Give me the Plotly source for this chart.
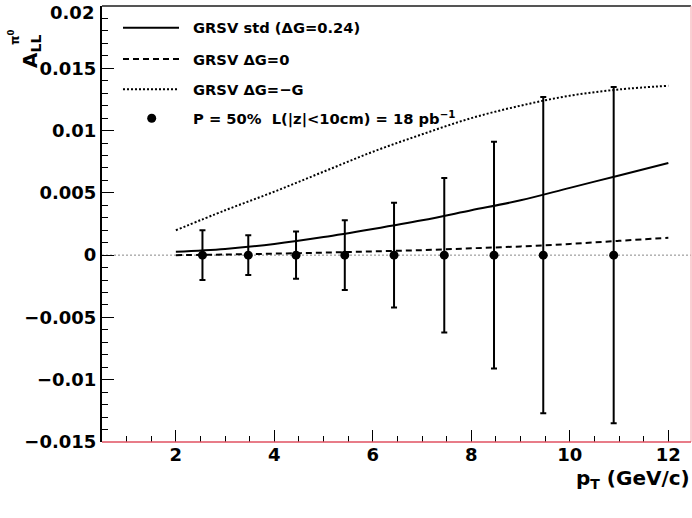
import plotly.graph_objects as go

# ---- data ----
pt_points = [2.54, 3.47, 4.44, 5.43, 6.43, 7.45, 8.46, 9.46, 10.89]
all_values = [0, 0, 0, 0, 0, 0, 0, 0, 0]
all_errors = [0.0020, 0.0016, 0.0019, 0.0028, 0.0042, 0.0062, 0.0091, 0.0127, 0.0135]

pt_curve = [2, 3, 4, 5, 6, 7, 8, 9, 10, 11, 12]
grsv_std = [0.00027, 0.0005, 0.0009, 0.00145, 0.0021, 0.0028, 0.0036, 0.0044, 0.0054, 0.0064, 0.0074]
grsv_zero = [0.0, 0.00005, 0.00012, 0.0002, 0.0003, 0.0004, 0.00055, 0.0007, 0.0009, 0.00115, 0.0014]
grsv_minus = [0.0020, 0.0036, 0.0051, 0.0067, 0.0083, 0.0097, 0.0110, 0.0120, 0.0128, 0.0133, 0.0136]

x_tickvals = [2, 4, 6, 8, 10, 12]
x_ticktext = ["2", "4", "6", "8", "10", "12"]
y_tickvals = [-0.015, -0.01, -0.005, 0, 0.005, 0.01, 0.015, 0.02]
y_ticktext = ["\u22120.015", "\u22120.01", "\u22120.005", "0", "0.005", "0.01", "0.015", "0.02"]

legend_labels = ["GRSV std (\u0394G=0.24)", "GRSV \u0394G=0", "GRSV \u0394G=\u2212G",
                 "P = 50%\u00a0\u00a0L(|z|<10cm) = 18 pb<sup>\u22121</sup>"]

X_RANGE = [0.5, 12.46]
Y_RANGE = [-0.0150001, 0.0200001]

W, H = 692, 518
ML, MR, MT, MB = 102, 1, 6, 76
PW = W - ML - MR
PH = H - MT - MB

FONT = "DejaVu Sans, Verdana, sans-serif"


def px(x):
    return (x - ML) / PW


def py(y):
    return 1 - (y - MT) / PH


def b(s):
    return "<b>" + s + "</b>"


fig = go.Figure()

line_styles = [dict(color="black", width=2, dash="solid"),
               dict(color="black", width=2, dash="6px,4px"),
               dict(color="black", width=2, dash="2px,2px")]

for ys, st in zip([grsv_std, grsv_zero, grsv_minus], line_styles):
    fig.add_trace(go.Scatter(x=pt_curve, y=ys, mode="lines", line=dict(shape="spline", **st),
                             showlegend=False, hoverinfo="skip"))

fig.add_trace(go.Scatter(
    x=pt_points, y=all_values, mode="markers",
    marker=dict(color="black", size=9),
    error_y=dict(type="data", array=all_errors, visible=True, color="black", thickness=2, width=3),
    showlegend=False))

shapes = []
shapes.append(dict(type="line", xref="paper", yref="y", x0=0, x1=1, y0=0, y1=0,
                   line=dict(color="#888888", width=1, dash="2px,2px"), layer="below"))
shapes.append(dict(type="line", xref="paper", yref="paper", x0=0, x1=1, y0=1, y1=1,
                   line=dict(color="#555555", width=2)))
shapes.append(dict(type="line", xref="paper", yref="paper", x0=1, x1=1, y0=0, y1=1,
                   line=dict(color="#f4a0a8", width=1)))
shapes.append(dict(type="line", xref="paper", yref="paper", x0=0, x1=1, y0=0, y1=0,
                   line=dict(color="#e05060", width=1.5)))

annotations = []
rows = [27.7, 59, 89.3, 118.3]
for i, (lab, ry) in enumerate(zip(legend_labels, rows)):
    if i < 3:
        st = line_styles[i]
        shapes.append(dict(type="line", xref="paper", yref="paper",
                           x0=px(123), x1=px(179), y0=py(ry), y1=py(ry),
                           line=dict(color="black", width=2, dash=st["dash"])))
    else:
        shapes.append(dict(type="circle", xref="paper", yref="paper",
                           x0=px(151.7 - 4.5), x1=px(151.7 + 4.5),
                           y0=py(ry + 4.5), y1=py(ry - 4.5),
                           fillcolor="black", line=dict(color="black", width=0)))
    annotations.append(dict(text=b(lab), xref="paper", yref="paper", x=px(191), y=py(ry),
                            xanchor="left", yanchor="middle", showarrow=False,
                            font=dict(family=FONT, size=14.7, color="black")))

annotations.append(dict(text=b("p<sub>T</sub> (GeV/c)"), xref="paper", yref="paper",
                        x=px(692), y=py(479), xanchor="right", yanchor="middle", showarrow=False,
                        font=dict(family=FONT, size=20, color="black")))
annotations.append(dict(text=b("A<sub>LL</sub>"), xref="paper", yref="paper",
                        x=px(31), y=py(52), xanchor="center", yanchor="middle", showarrow=False,
                        textangle=-90,
                        font=dict(family=FONT, size=20, color="black")))
annotations.append(dict(text=b("\u03c0<sup>0</sup>"), xref="paper", yref="paper",
                        x=px(14), y=py(37), xanchor="center", yanchor="middle", showarrow=False,
                        textangle=-90,
                        font=dict(family=FONT, size=12, color="black")))
# top tick label (nudged inside the page like the original)
annotations.append(dict(text=b(y_ticktext[-1]), xref="paper", yref="paper",
                        x=px(96), y=py(13), xanchor="right", yanchor="middle", showarrow=False,
                        font=dict(family=FONT, size=18, color="black")))

shown_y_text = [b(t) for t in y_ticktext[:-1]] + [""]

fig.update_layout(
    width=W, height=H,
    margin=dict(l=ML, r=MR, t=MT, b=MB, pad=0),
    paper_bgcolor="white", plot_bgcolor="white",
    showlegend=False,
    shapes=shapes, annotations=annotations,
    font=dict(family=FONT, color="black"),
)
fig.update_xaxes(range=X_RANGE, showgrid=False, zeroline=False,
                 showline=False, ticks="inside", ticklen=12, tickwidth=1, tickcolor="black",
                 tickmode="array", tickvals=x_tickvals, ticktext=[b(t) for t in x_ticktext],
                 minor=dict(ticks="inside", ticklen=6, tickwidth=1, tickcolor="black",
                            tickmode="linear", dtick=0.5, tick0=0),
                 tickfont=dict(family=FONT, size=18, color="black"))
fig.update_yaxes(range=Y_RANGE, showgrid=False, zeroline=False,
                 showline=True, linecolor="black", linewidth=2, mirror=False,
                 ticks="inside", ticklen=12, tickwidth=1, tickcolor="black",
                 tickmode="array", tickvals=y_tickvals, ticktext=shown_y_text,
                 minor=dict(ticks="inside", ticklen=6, tickwidth=1, tickcolor="black",
                            tickmode="linear", dtick=0.001, tick0=0),
                 tickfont=dict(family=FONT, size=18, color="black"))

fig.write_html("out.html")
